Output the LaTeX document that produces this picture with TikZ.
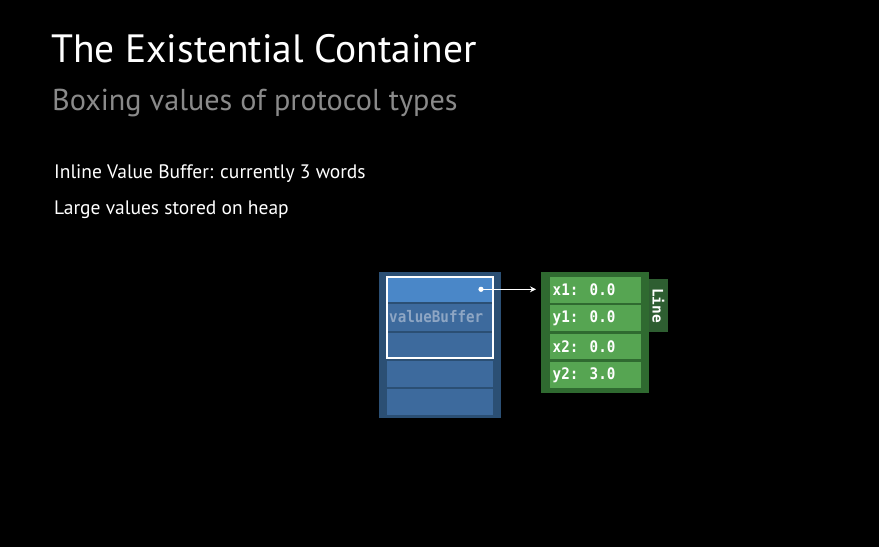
\documentclass[tikz,border=0pt]{standalone}
\usepackage{fontspec}
\usepackage{graphicx}
\setmainfont{PT Sans}
\newfontfamily\monof{DejaVu Sans Mono}
\usetikzlibrary{arrows.meta}
\definecolor{bgblack}{HTML}{000000}
\definecolor{outerblue}{HTML}{2B4F74}
\definecolor{topblue}{HTML}{4A87C8}
\definecolor{cellblue}{HTML}{3D6A9D}
\definecolor{outergreen}{HTML}{2F6A30}
\definecolor{tabgreen}{HTML}{2E5E31}
\definecolor{cellgreen}{HTML}{56A552}
\definecolor{subgray}{HTML}{8A8A8A}
\definecolor{vbgray}{HTML}{8EA6C4}
\newcommand{\tallmono}[1]{\scalebox{1}[1.12]{#1}}
\begin{document}
\begin{tikzpicture}[x=1pt,y=-1pt,
  bluecell/.style={fill=cellblue,draw=none},
  greencell/.style={fill=cellgreen,draw=none},
  celltext/.style={font=\monof\bfseries\fontsize{14.2}{15}\selectfont,text=white,anchor=west,inner sep=0pt},
  bodytext/.style={font=\fontsize{19.5}{22}\selectfont,text=white,anchor=base west,inner sep=0pt}]
\useasboundingbox (0,0) rectangle (879,547);
\fill[bgblack] (0,0) rectangle (879,547);
% titles
\node[font=\fontsize{39.5}{44}\selectfont,text=white,anchor=base west,inner sep=0pt] (title) at (51,62.3) {The Existential Container};
\node[font=\fontsize{30.2}{34}\selectfont,text=subgray,anchor=base west,inner sep=0pt] (sub) at (52,110) {Boxing values of protocol types};
\node[bodytext] (l1) at (54,178.3) {Inline Value Buffer: currently 3 words};
\node[bodytext] (l2) at (54,214) {Large values stored on heap};
% blue container
\fill[outerblue] (379,272) rectangle (501,418);
\fill[topblue] (387,277) rectangle (493,302);
\fill[bluecell] (387,304) rectangle (493,331);
\fill[bluecell] (387,333) rectangle (493,358);
\fill[bluecell] (387,361) rectangle (493,387);
\fill[bluecell] (387,389) rectangle (493,415);
\draw[white,line width=1.3pt] (387,277) rectangle (493,358);
\node[font=\monof\bfseries\fontsize{14.2}{15}\selectfont,text=vbgray,anchor=west,inner sep=0pt] (vb) at (389,316.5) {\tallmono{valueBuffer}};
% green box
\fill[outergreen] (541,272) rectangle (649,393);
\fill[tabgreen] (649,279) rectangle (668,332);
\node[font=\monof\bfseries\fontsize{14.5}{15}\selectfont,text=white,rotate=-90,inner sep=0pt] (line) at (658.5,305.5) {Line};
\fill[greencell] (550,277) rectangle (641,302.7);
\fill[greencell] (550,305) rectangle (641,330.7);
\fill[greencell] (550,333.7) rectangle (641,359.3);
\fill[greencell] (550,362.3) rectangle (641,388.3);
\node[celltext] (x1) at (552.5,290) {\tallmono{x1: 0.0}};
\node[celltext] (y1) at (552.5,318) {\tallmono{y1: 0.0}};
\node[celltext] (x2) at (552.5,346.5) {\tallmono{x2: 0.0}};
\node[celltext] (y2) at (552.5,375.3) {\tallmono{y2: 3.0}};
% pointer
\coordinate (dot) at (481,289.3);
\coordinate (tip) at (536,289.3);
\fill[white] (dot) circle (2.6);
\draw[white,line width=1pt,-{Stealth[length=6pt,width=6pt]}] (dot) -- (tip);
\end{tikzpicture}
\end{document}
